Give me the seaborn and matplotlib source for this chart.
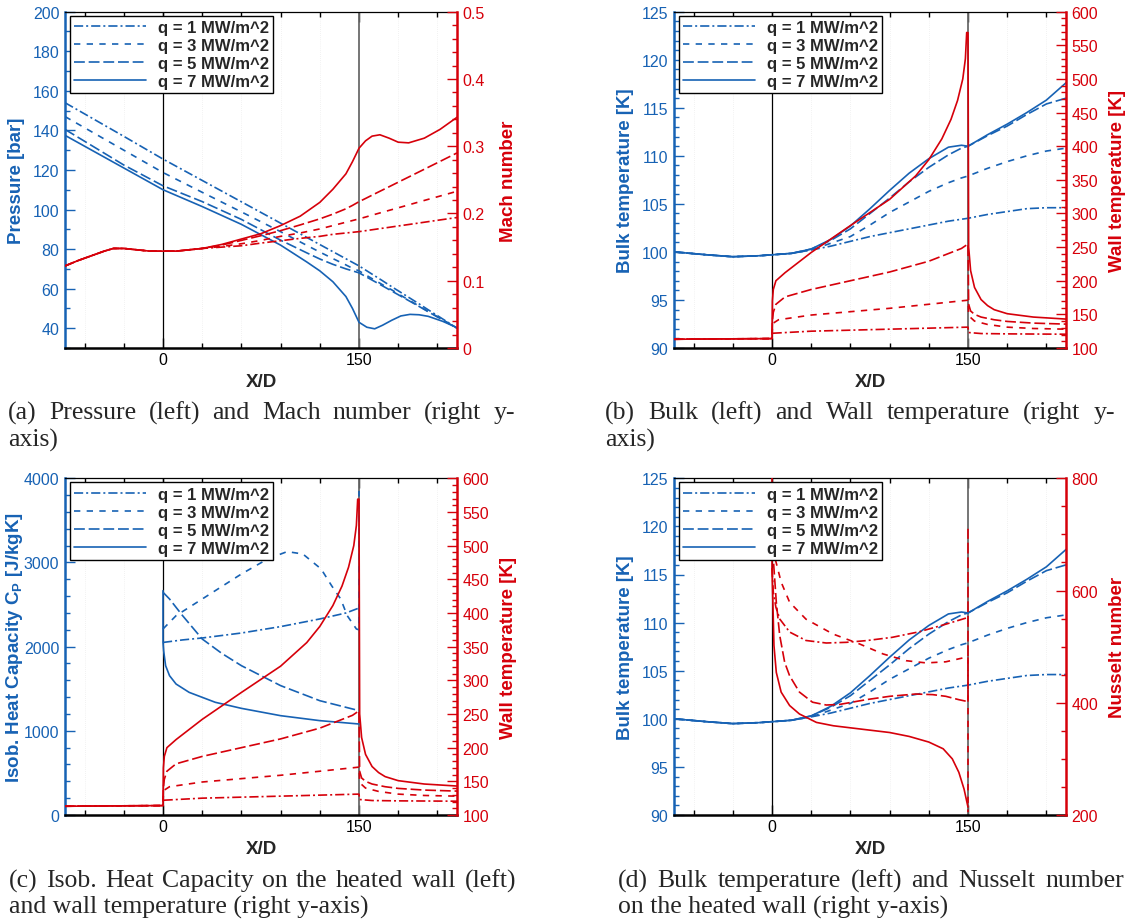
import numpy as np
import pandas as pd
import matplotlib
matplotlib.use('Agg')
import matplotlib.pyplot as plt
from matplotlib.lines import Line2D
from matplotlib.ticker import FixedLocator, MultipleLocator, FuncFormatter
import seaborn as sns

# ---------------- data ----------------
LABELS = ['q = 1 MW/m^2', 'q = 3 MW/m^2', 'q = 5 MW/m^2', 'q = 7 MW/m^2']

# (a) pressure [bar]
PRES_X = [-75, -30, 0, 30, 60, 90, 110, 120, 130, 140, 145, 150, 156, 162, 168, 175, 182, 189, 196, 203, 214, 225]
PRES_Q1 = [154, 137, 125.5, 114.7, 103.9, 93.1, 85.9, 82.3, 78.7, 75.1, 73.3, 71.5, 69.0, 66.5, 64.0,
           61.0, 58.1, 55.2, 52.3, 49.3, 44.7, 40.0]
PRES_Q3 = [147, 130, 118.7, 108.7, 98.8, 88.8, 81.9, 78.5, 75.2, 72.0, 70.3, 69.0, 66.6, 64.3, 62.0,
           59.4, 56.6, 53.9, 51.2, 48.5, 44.3, 40.0]
PRES_Q5 = [140.5, 122.5, 112, 104, 95, 84.5, 78.1, 75, 72.3, 70.0, 69, 68, 65.8, 63.6, 61.4,
           58.8, 56.2, 53.6, 51.0, 48.3, 44.2, 40.0]
PRES_Q7 = [137.5, 121, 110, 101.5, 92.5, 82, 73.5, 69, 63.5, 56, 50, 43, 40.5, 39.7, 41.5,
           44, 46.2, 47, 46.8, 46, 43.5, 40.3]

# (a) Mach number
MACH_X = [-75, -65, -55, -45, -38, -30, -20, -10, 0, 10, 20, 30, 45, 60, 75, 90, 105, 120,
          130, 140, 145, 150, 155, 160, 166, 173, 180, 188, 200, 212, 225]
MACH_Q1 = [.122, .130, .137, .144, .148, .148, .146, .144, .144, .144, .146, .148, .150, .152, .156,
           .1595, .163, .166, .169, .171, .172, .173, .1744, .1758, .1775, .1794, .1814, .1836,
           .187, .1904, .194]
MACH_Q3 = [.122, .130, .137, .144, .148, .148, .146, .144, .144, .144, .146, .148, .151, .155, .160,
           .166, .171, .177, .182, .187, .1895, .192, .1947, .1975, .2008, .2046, .2084, .2128,
           .2194, .2259, .233]
MACH_Q5 = [.122, .130, .137, .144, .148, .148, .146, .144, .144, .144, .146, .148, .153, .160, .167,
           .1745, .183, .192, .199, .207, .212, .2175, .2223, .2272, .233, .2397, .2465, .2542,
           .2658, .2774, .290]
MACH_Q7 = [.122, .130, .137, .144, .148, .148, .146, .144, .144, .144, .146, .148, .154, .162, .170,
           .182, .196, .2165, .236, .259, .277, .297, .308, .315, .317, .312, .306, .305, .312,
           .325, .343]

# (b, d) bulk temperature [K]
TB_X = [-75, -50, -30, -10, 0, 15, 30, 45, 60, 75, 90, 105, 120, 135, 145, 150, 165, 180, 195, 210, 225]
TB_Q1 = [100.0, 99.7, 99.5, 99.6, 99.7, 99.85, 100.2, 100.6, 101.1, 101.6, 102.0, 102.4, 102.8,
         103.2, 103.4, 103.5, 103.9, 104.2, 104.5, 104.6, 104.6]
TB_Q3 = [100.0, 99.7, 99.5, 99.6, 99.7, 99.85, 100.2, 100.9, 101.6, 102.8, 104.1, 105.2, 106.3,
         107.2, 107.7, 107.9, 108.7, 109.4, 110.0, 110.5, 110.8]
TB_Q5 = [100.0, 99.7, 99.5, 99.6, 99.7, 99.85, 100.3, 101.2, 102.4, 104.0, 105.6, 107.3, 108.8,
         110.1, 110.8, 111.0, 112.1, 113.1, 114.3, 115.4, 116.0]
TB_Q7 = [100.0, 99.7, 99.5, 99.6, 99.7, 99.85, 100.3, 101.3, 102.7, 104.5, 106.4, 108.2, 109.7,
         110.9, 111.1, 111.0, 112.2, 113.3, 114.5, 115.8, 117.6]

# (b, c) wall temperature [K]
TW_X_Q1 = [-75, -40, 0, 0.3, 1, 30, 60, 90, 120, 149.5, 150, 150.5, 160, 180, 225]
TW_Q1 = [113, 113.5, 114, 120, 122, 125, 126.5, 128, 129.5, 131, 131, 123, 121.5, 121, 120.5]
TW_X_Q3 = [-75, -40, 0, 0.3, 1, 5, 30, 60, 90, 120, 149.5, 150, 150.5, 155, 165, 180, 200, 225]
TW_Q3 = [113, 113.5, 114, 130, 137, 142, 149, 154, 159, 165, 171, 172, 148, 140, 135, 131, 129, 128]
TW_X_Q5 = [-75, -40, 0, 0.3, 1, 3, 10, 30, 60, 90, 120, 145, 149.5, 150, 150.5, 152, 155, 160,
           170, 180, 200, 225]
TW_Q5 = [113, 113.5, 114, 140, 153, 165, 176, 187, 200, 213, 229, 248, 254, 255, 165, 155, 150,
         146, 142, 139.5, 137, 135.5]
TW_X_Q7 = [-75, -40, 0, 0.3, 1, 3, 10, 30, 60, 90, 110, 120, 130, 137, 142, 146, 148, 149, 150,
           150.5, 152, 155, 160, 165, 170, 180, 200, 225]
TW_Q7 = [113, 113.5, 114, 170, 187, 200, 212, 242, 282, 321, 356, 380, 411, 440, 468, 500, 530,
         569, 569, 250, 215, 190, 172, 163, 157, 151, 146, 143]

# (c) isobaric heat capacity on the heated wall [J/kgK]
CP_X_Q1 = [0, 15, 30, 60, 90, 120, 140, 150]
CP_Q1 = [2050, 2080, 2103, 2162, 2238, 2329, 2400, 2459]
CP_X_Q3 = [0, 10, 30, 60, 80, 95, 107, 121, 129, 136, 141, 148, 150, 150]
CP_Q3 = [2210, 2368, 2566, 2863, 3041, 3129, 3101, 2923, 2725, 2566, 2368, 2210, 2200, 3850]
CP_X_Q5 = [0, 5, 15, 30, 45, 60, 90, 120, 150]
CP_Q5 = [2646, 2566, 2368, 2091, 1920, 1774, 1537, 1358, 1240]
CP_X_Q7 = [0, 0, 0.5, 2, 5, 10, 20, 40, 60, 90, 120, 150]
CP_Q7 = [2665, 2050, 1950, 1774, 1655, 1556, 1457, 1339, 1267, 1180, 1121, 1081]

# (d) Nusselt number on the heated wall
NU_X_Q1 = [0, 1, 3, 6, 13.5, 26, 41.5, 57, 72, 92, 113, 133, 150]
NU_Q1 = [640, 597, 570, 549, 526, 511, 506.5, 507.7, 510.7, 516.6, 526.7, 540, 552]
NU_X_Q3 = [0, 2.5, 7, 13.5, 26, 46.6, 67, 85, 102.6, 118, 133, 150, 150]
NU_Q3 = [700, 656, 615, 579, 549, 522.6, 504.8, 487, 475, 471, 473, 482, 205]
NU_X_Q5 = [0.5, 1, 3.3, 5.9, 9.7, 13.5, 21, 31, 41.5, 51.7, 72, 90, 110, 123, 133, 143, 150, 150]
NU_Q5 = [700, 656, 579, 520, 472, 448, 419, 401, 396, 397, 405.5, 411.5, 415.6, 414.5, 411.5,
         405.5, 402, 710]
NU_X_Q7 = [0, 0, 0.8, 1.5, 3.3, 7, 13.5, 21, 34, 47, 72, 90, 105, 120, 131, 138, 143, 147, 150]
NU_Q7 = [800, 640, 567, 502, 454, 419, 395, 380, 365, 359, 352, 347, 340, 330, 318, 300, 276, 246, 214]

CAP_A = ['(a) Pressure (left) and Mach number (right y-', 'axis)']
CAP_B = ['(b) Bulk (left) and Wall temperature (right y-', 'axis)']
CAP_C = ['(c) Isob. Heat Capacity on the heated wall (left)', 'and wall temperature (right y-axis)']
CAP_D = ['(d) Bulk temperature (left) and Nusselt number', 'on the heated wall (right y-axis)']

# ---------------- style ----------------
sns.set_style('ticks')
plt.rcParams['font.family'] = ['Liberation Sans', 'DejaVu Sans']
plt.rcParams['mathtext.fontset'] = 'custom'
plt.rcParams['mathtext.rm'] = 'Liberation Sans'
plt.rcParams['mathtext.bf'] = 'Liberation Sans:bold'

BLUE = '#1762b4'
RED = '#d6000a'
LW = 1.2
DASHES = {LABELS[0]: (5.5, 1.8, 1.2, 1.8), LABELS[1]: (3.8, 3.8), LABELS[2]: (6.5, 2.3), LABELS[3]: ''}
CAP_SIZE = 18.5

W, H = 1127, 920
fig = plt.figure(figsize=(W / 100, H / 100), dpi=100)


def tidy(xs_list, ys_list):
    parts = [pd.DataFrame({'x': xs, 'y': ys, 'q': lab}) for lab, xs, ys in zip(LABELS, xs_list, ys_list)]
    return pd.concat(parts, ignore_index=True)


def draw(ax, df, color):
    sns.lineplot(data=df, x='x', y='y', style='q', style_order=LABELS, dashes=DASHES,
                 color=color, lw=LW, estimator=None, sort=False, legend=False, ax=ax)


def rect(l, t, r, b):
    return [l / W, 1 - b / H, (r - l) / W, (b - t) / H]


def panel(box, ylim, ymaj, ymin, ylabel, ylim2, ymaj2, ymin2, ylabel2):
    ax = fig.add_axes(rect(*box))
    ax2 = ax.twinx()
    fmt = FuncFormatter(lambda v, _: f'{v:g}')

    ax.set_xlim(-75, 225)
    ax.xaxis.set_major_locator(FixedLocator([0, 150]))
    ax.xaxis.set_minor_locator(MultipleLocator(30))
    ax.set_ylim(*ylim)
    ax.yaxis.set_major_locator(MultipleLocator(ymaj))
    ax.yaxis.set_minor_locator(MultipleLocator(ymin))
    ax.yaxis.set_major_formatter(fmt)
    ax2.set_ylim(*ylim2)
    ax2.yaxis.set_major_locator(MultipleLocator(ymaj2))
    ax2.yaxis.set_minor_locator(MultipleLocator(ymin2))
    ax2.yaxis.set_major_formatter(fmt)

    ax.tick_params(axis='x', which='both', direction='in', top=True, bottom=True, colors='k',
                   labelsize=11.5, pad=3)
    ax.tick_params(axis='y', which='both', direction='in', left=True, right=False, colors=BLUE,
                   labelsize=11.5, pad=4)
    ax2.tick_params(axis='y', which='both', direction='in', right=True, colors=RED,
                    labelsize=11.5, pad=4)
    for a in (ax, ax2):
        a.tick_params(which='major', length=7, width=1)
        a.tick_params(which='minor', length=3.5, width=1)

    for s in ('left', 'bottom', 'top'):
        ax2.spines[s].set_visible(False)
    ax.spines['right'].set_visible(False)
    ax.spines['left'].set_color(BLUE)
    ax.spines['left'].set_linewidth(1.8)
    ax.spines['bottom'].set_color('k')
    ax.spines['bottom'].set_linewidth(1.8)
    ax.spines['top'].set_color('k')
    ax.spines['top'].set_linewidth(0.9)
    ax2.spines['right'].set_color(RED)
    ax2.spines['right'].set_linewidth(1.8)

    ax.grid(True, axis='x', which='minor', color='#e6e6e6', lw=0.5, ls=(0, (1, 2)))
    ax.axvline(0, color='k', lw=0.9, zorder=1)
    ax.axvline(150, color='#6a6a6a', lw=1.3, zorder=1)

    ax.set_xlabel('X/D', fontsize=13.5, fontweight='bold', labelpad=4)
    ax.set_ylabel(ylabel, fontsize=13.5, fontweight='bold', color=BLUE)
    ax.yaxis.set_label_coords(-0.102, 0.5)
    ax2.set_ylabel(ylabel2, fontsize=13.5, fontweight='bold', color=RED)
    ax2.yaxis.set_label_coords(1.11, 0.5)
    return ax, ax2


def add_legend(ax2):
    handles = []
    for lab in LABELS:
        d = DASHES[lab]
        if d == '':
            handles.append(Line2D([], [], color=BLUE, lw=LW, ls='-'))
        else:
            handles.append(Line2D([], [], color=BLUE, lw=LW, dashes=d))
    leg = ax2.legend(handles, LABELS, loc='upper left', bbox_to_anchor=(0.0128, 0.988),
                     borderaxespad=0, frameon=True, fancybox=False, edgecolor='k', framealpha=1,
                     prop={'weight': 'bold', 'size': 12}, handlelength=4.3, handletextpad=0.7,
                     labelspacing=0.18, borderpad=0.25)
    leg.get_frame().set_linewidth(1.0)


def justify(words_line, x0, x1, y, size=CAP_SIZE):
    words = words_line.split()
    objs = [fig.text(0, 1 - y / H, w, fontsize=size, family='Liberation Serif', va='center')
            for w in words]
    renderer = fig.canvas.get_renderer()
    widths = [o.get_window_extent(renderer).width for o in objs]
    gap = (x1 - x0 - sum(widths)) / max(len(words) - 1, 1)
    gap = max(gap, 0.22 * size * 100 / 72)
    pos = x0
    for o, w in zip(objs, widths):
        o.set_x(pos / W)
        pos += w + gap


def caption(lines, x0, x1, y1, y2):
    justify(lines[0], x0, x1, y1)
    fig.text(x0 / W, 1 - y2 / H, lines[1], fontsize=CAP_SIZE, family='Liberation Serif', va='center')


# ---------------- (a) ----------------
ax, ax2 = panel((65, 12.7, 457, 349), (30, 200), 20, 10, 'Pressure [bar]',
                (0, 0.5), 0.1, 0.02, 'Mach number')
draw(ax, tidy([PRES_X] * 4, [PRES_Q1, PRES_Q3, PRES_Q5, PRES_Q7]), BLUE)
draw(ax2, tidy([MACH_X] * 4, [MACH_Q1, MACH_Q3, MACH_Q5, MACH_Q7]), RED)
add_legend(ax2)

# ---------------- (b) ----------------
ax, ax2 = panel((674, 12.7, 1066, 349), (90, 125), 5, 1, 'Bulk temperature [K]',
                (100, 600), 50, 10, 'Wall temperature [K]')
draw(ax, tidy([TB_X] * 4, [TB_Q1, TB_Q3, TB_Q5, TB_Q7]), BLUE)
draw(ax2, tidy([TW_X_Q1, TW_X_Q3, TW_X_Q5, TW_X_Q7], [TW_Q1, TW_Q3, TW_Q5, TW_Q7]), RED)
add_legend(ax2)

# ---------------- (c) ----------------
ax, ax2 = panel((65, 479.3, 457, 816), (0, 4000), 1000, 200,
                r'Isob. Heat Capacity C$_\mathbf{P}$ [J/kgK]',
                (100, 600), 50, 10, 'Wall temperature [K]')
draw(ax, tidy([CP_X_Q1, CP_X_Q3, CP_X_Q5, CP_X_Q7], [CP_Q1, CP_Q3, CP_Q5, CP_Q7]), BLUE)
draw(ax2, tidy([TW_X_Q1, TW_X_Q3, TW_X_Q5, TW_X_Q7], [TW_Q1, TW_Q3, TW_Q5, TW_Q7]), RED)
add_legend(ax2)

# ---------------- (d) ----------------
ax, ax2 = panel((674, 479.3, 1066, 816), (90, 125), 5, 1, 'Bulk temperature [K]',
                (200, 800), 200, 50, 'Nusselt number')
draw(ax, tidy([TB_X] * 4, [TB_Q1, TB_Q3, TB_Q5, TB_Q7]), BLUE)
draw(ax2, tidy([NU_X_Q1, NU_X_Q3, NU_X_Q5, NU_X_Q7], [NU_Q1, NU_Q3, NU_Q5, NU_Q7]), RED)
add_legend(ax2)

# ---------------- captions ----------------
caption(CAP_A, 8, 515, 413, 440)
caption(CAP_B, 605, 1115, 413, 440)
caption(CAP_C, 9, 516, 881, 907)
caption(CAP_D, 618, 1124, 881, 907)

fig.savefig('out.png', dpi=100)
